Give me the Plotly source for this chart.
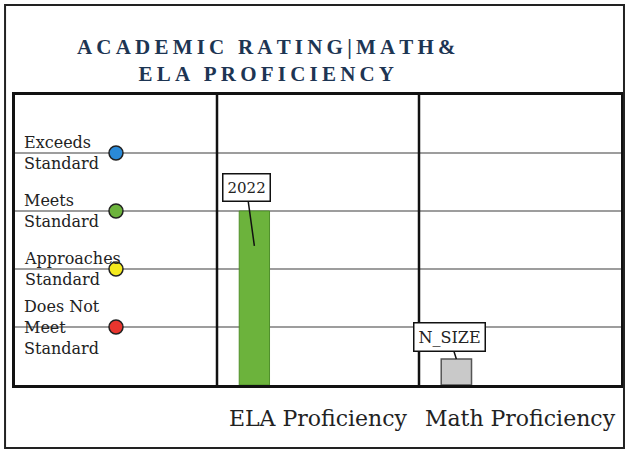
import plotly.graph_objects as go

# rating levels shown in the left column
levels = ["Does Not<br>Meet<br>Standard", "Approaches<br>Standard", "Meets<br>Standard", "Exceeds<br>Standard"]
level_values = [1, 2, 3, 4]
level_colors = ["#e8352e", "#f4ea1e", "#6cb33c", "#2a8ad8"]

categories = ["ELA Proficiency", "Math Proficiency"]
ela_2022 = [3, None]
n_size = [None, 0.45]

W, H = 632, 454
ML, MR, MT, MB = 15, 8, 95, 69
serif = "DejaVu Serif, Liberation Serif, serif"

fig = go.Figure()

xs = [1, 2]
bar_w = 0.15
bar_off = -0.39

fig.add_trace(go.Bar(x=xs, y=ela_2022, width=bar_w, offset=bar_off,
                     marker=dict(color="#6cb33c", line=dict(color="#4f8f2a", width=1)),
                     showlegend=False, hoverinfo="skip"))
fig.add_trace(go.Bar(x=xs, y=n_size, width=bar_w, offset=bar_off,
                     marker=dict(color="#c9c9c9", line=dict(color="#555", width=1.5)),
                     showlegend=False, hoverinfo="skip"))

# level markers in the first column
fig.add_trace(go.Scatter(x=[0] * len(level_values), y=level_values, mode="markers",
                         marker=dict(size=14, color=level_colors, line=dict(color="#222", width=1.5)),
                         showlegend=False, hoverinfo="skip"))

for lab, v in zip(levels, level_values):
    fig.add_annotation(x=-0.5, y=v, text=lab, showarrow=False, xanchor="left", align="left",
                       xshift=7, font=dict(family=serif, size=16, color="#222"))

# callouts
bar_center = bar_off + bar_w / 2
fig.add_annotation(x=1 + bar_center, y=ela_2022[0] - 0.6, text="2022", showarrow=True,
                   arrowhead=0, arrowwidth=1.5, arrowcolor="#111", ax=-8, ay=-58,
                   bgcolor="white", bordercolor="#111", borderwidth=1.5, borderpad=4,
                   font=dict(family=serif, size=15, color="#222"))
fig.add_annotation(x=2 + bar_center, y=n_size[1], text="N_SIZE", showarrow=True,
                   arrowhead=0, arrowwidth=1.5, arrowcolor="#111", ax=-7, ay=-22,
                   bgcolor="white", bordercolor="#111", borderwidth=1.5, borderpad=4,
                   font=dict(family=serif, size=16, color="#222"))

# column dividers
for xd in [0.5, 1.5]:
    fig.add_shape(type="line", x0=xd, x1=xd, y0=0, y1=5, xref="x", yref="y",
                  line=dict(color="#111", width=2.5), layer="above")

# outer frame
pw, ph = W - ML - MR, H - MT - MB
fig.add_shape(type="rect", xref="paper", yref="paper",
              x0=(5 - ML) / pw, x1=(627 - ML) / pw, y0=-(448 - (H - MB)) / ph, y1=((H - MB) - 5) / ph,
              line=dict(color="#222", width=2))

# title, two lines with letter spacing
title = "\u2009".join("ACADEMIC RATING|MATH&") + "<br>" + "\u2009".join("ELA PROFICIENCY")
fig.add_annotation(text=title, xref="paper", yref="paper", x=(268 - ML) / pw, y=1 + (MT - 60) / ph,
                   xanchor="center", yanchor="middle", showarrow=False, align="center",
                   font=dict(family="Liberation Serif, serif", size=21, color="#1d3553", weight="bold"))

fig.update_layout(
    width=W, height=H,
    margin=dict(l=ML, r=MR, t=MT, b=MB),
    paper_bgcolor="white", plot_bgcolor="white",
    xaxis=dict(range=[-0.5, 2.5], tickvals=xs, ticktext=categories, showgrid=False,
               showline=True, mirror=True, linecolor="#111", linewidth=2.5, ticks="",
               ticklabelstandoff=12,
               tickfont=dict(family=serif, size=22, color="#222"), zeroline=False, fixedrange=True),
    yaxis=dict(range=[0, 5], tickvals=level_values, showticklabels=False, gridcolor="#9d9d9d",
               gridwidth=2, showline=True, mirror=True, linecolor="#111", linewidth=2.5,
               zeroline=False, fixedrange=True),
    barmode="overlay",
)

fig.write_html("out.html", config={"displayModeBar": False},
               post_script="document.body.style.margin='0';")
